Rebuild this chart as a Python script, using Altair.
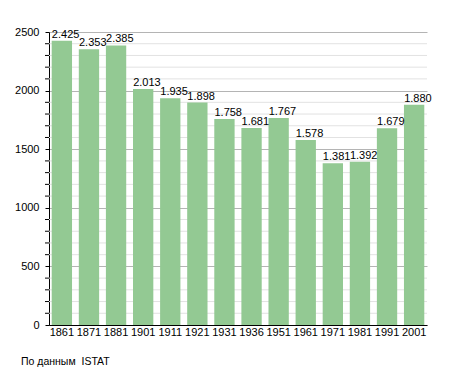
import altair as alt
import pandas as pd

years = ["1861", "1871", "1881", "1901", "1911", "1921", "1931", "1936",
         "1951", "1961", "1971", "1981", "1991", "2001"]
population = [2425, 2353, 2385, 2013, 1935, 1898, 1758, 1681,
              1767, 1578, 1381, 1392, 1679, 1880]
labels = ["2.425", "2.353", "2.385", "2.013", "1.935", "1.898", "1.758", "1.681",
          "1.767", "1.578", "1.381", "1.392", "1.679", "1.880"]
major_ticks = [0, 500, 1000, 1500, 2000, 2500]
minor_ticks = [v for v in range(100, 2500, 100) if v % 500 != 0]
source_note = "По данным \u00a0ISTAT"

df = pd.DataFrame({"year": years, "pop": population, "label": labels})
minor_df = pd.DataFrame({"v": minor_ticks})

FONT = "Liberation Sans"
yscale = alt.Scale(domain=[0, 2500], nice=False)

yaxis = alt.Axis(values=major_ticks, format="d", labelOverlap=False,
                 domainColor="black", tickColor="black", tickSize=4,
                 labelColor="black", labelFont=FONT, labelFontSize=11,
                 labelPadding=6, gridColor="#b4b4b4")
xaxis = alt.Axis(labelAngle=0, ticks=False, domainColor="black",
                 labelColor="black", labelFont=FONT, labelFontSize=11,
                 labelPadding=1, grid=False)

minor_grid = alt.Chart(minor_df).mark_rule(color="#e2e2e2", strokeWidth=1).encode(
    y=alt.Y("v:Q", scale=yscale, title=None, axis=yaxis))

bars = alt.Chart(df).mark_bar(color="#93c993").encode(
    x=alt.X("year:N", sort=years, title=None,
            scale=alt.Scale(paddingInner=0.25, paddingOuter=0.1), axis=xaxis),
    y=alt.Y("pop:Q", title=None, scale=yscale, axis=yaxis))

minor_tick = alt.Chart(minor_df).mark_rule(color="black", strokeWidth=1).encode(
    y=alt.Y("v:Q", scale=yscale, title=None, axis=yaxis),
    x=alt.value(-4), x2=alt.value(0))

text = alt.Chart(df).mark_text(align="left", baseline="bottom", dx=-10, dy=-1,
                               font=FONT, fontSize=11, color="black").encode(
    x=alt.X("year:N", sort=years, title=None, axis=xaxis),
    y=alt.Y("pop:Q", scale=yscale, title=None, axis=yaxis),
    text="label:N")

note = alt.Chart(pd.DataFrame({"t": [source_note]})).mark_text(
    align="left", baseline="middle", font=FONT, fontSize=10.5, color="black"
).encode(x=alt.value(-28), y=alt.value(330), text="t:N")

chart = alt.layer(minor_grid, bars, minor_tick, text, note).properties(
    width=378, height=293,
    autosize=alt.AutoSizeParams(type="none"),
    padding={"left": 41, "top": 24, "right": 5, "bottom": 46},
).configure_view(stroke=None)

chart.save("out.html", embed_options={"renderer": "svg", "actions": False})
